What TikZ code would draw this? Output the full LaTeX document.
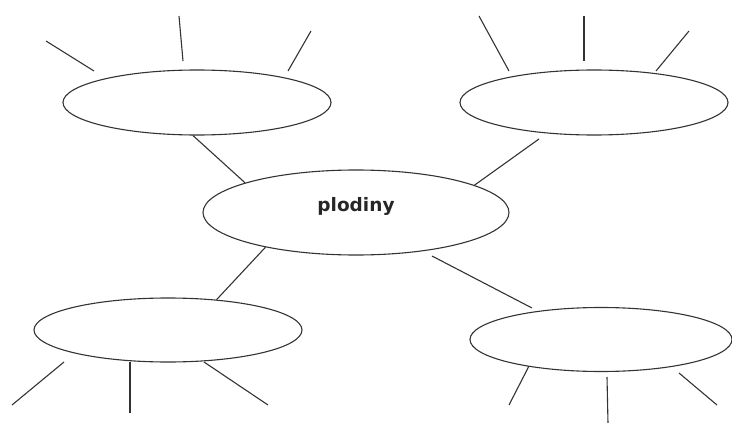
\documentclass[tikz,border=0pt]{standalone}
\usepackage{fontspec}
\newfontfamily\labelfont{DejaVu Sans}
\usetikzlibrary{shapes.geometric}
\tikzset{
  ink/.style={draw=black!80, line width=1.1pt},
  bubble/.style={ink, ellipse, inner sep=0pt, minimum width=268pt, minimum height=65pt},
  hub/.style={ink, ellipse, inner sep=0pt, minimum width=306pt, minimum height=85pt,
    font=\labelfont\bfseries\fontsize{18.5}{20}\selectfont, text=black!85,
    text height=14pt, text depth=17pt},
  spoke/.style={ink},
  link/.style={ink}
}
\begin{document}
\begin{tikzpicture}[x=1pt, y=-1pt]
  \useasboundingbox (0,0) rectangle (732,423);

  % central topic and the four surrounding bubbles
  \node[hub] (c) at (356,212.5) {plodiny};
  \node[bubble] (tl) at (197,102.5) {};
  \node[bubble] (tr) at (594,102.5) {};
  \node[bubble, minimum height=64pt] (bl) at (168,330) {};
  \node[bubble, minimum width=262pt, minimum height=64pt] (br) at (601,339.5) {};

  % links from the bubbles to the central topic
  \draw[link] (tl.263) -- (c.165.5);
  \coordinate (trlink) at (539,139);
  \draw[link] (trlink) -- (c.13.9);
  \draw[link] (c.201.5) -- (bl.32.5);
  \coordinate (brlinkA) at (432,256);
  \coordinate (brlinkB) at (532,308);
  \draw[link] (brlinkA) -- (brlinkB);

  % short free strokes around the outer bubbles
  \foreach \n/\a/\b in {
      tla/{46,41}/{94,71}, tlb/{179,16}/{183,61}, tlc/{311,31}/{288,71},
      tra/{479,16}/{509,71}, trb/{584,16}/{584,61}, trc/{689,31}/{656,71},
      bla/{64,362}/{12,405}, blb/{130,362}/{130,413}, blc/{204,362}/{268,405},
      bra/{529,366}/{509,405}, brb/{607,377}/{608,423}, brc/{679,373}/{717,405}} {
    \coordinate (\n-in) at (\a);
    \coordinate (\n-out) at (\b);
    \draw[spoke] (\n-in) -- (\n-out);
  }
\end{tikzpicture}
\end{document}
